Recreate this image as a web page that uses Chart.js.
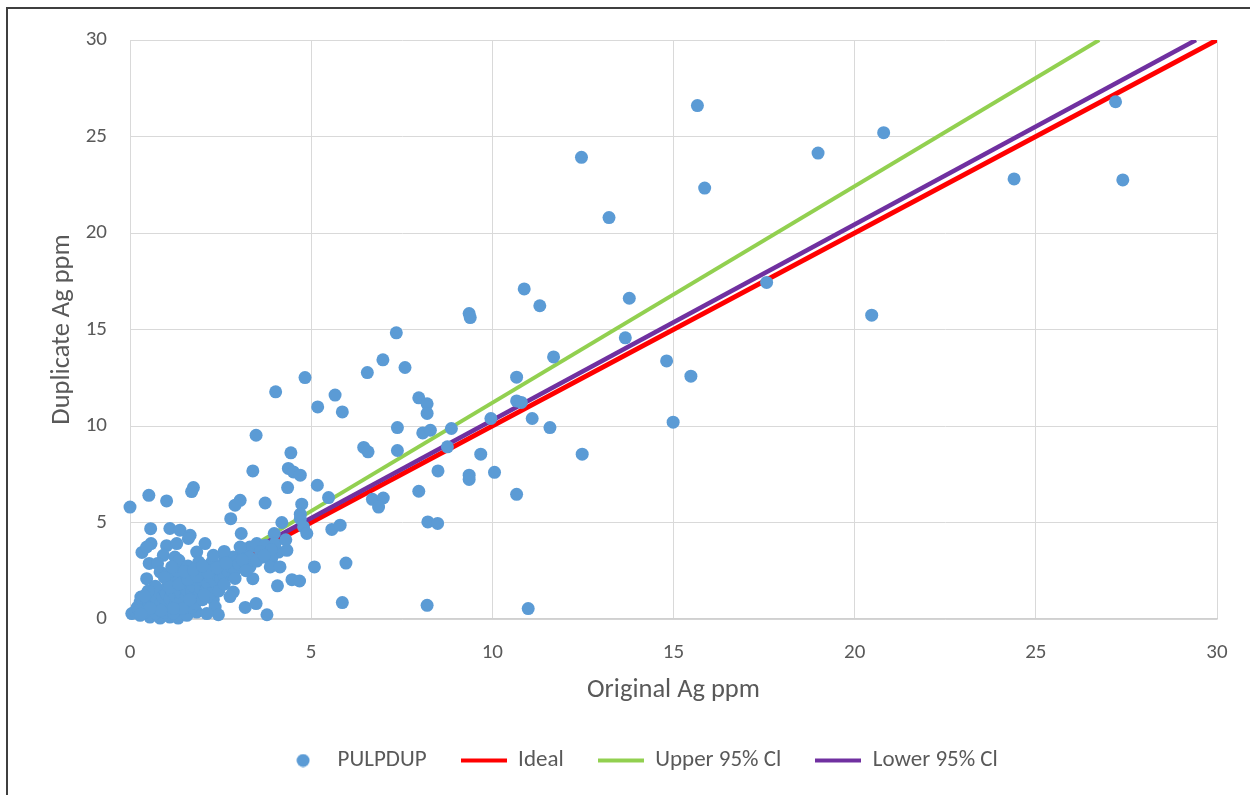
<!DOCTYPE html>
<html>
<head>
<meta charset="utf-8">
<title>PULPDUP Ag</title>
<script src="https://cdn.jsdelivr.net/npm/chart.js@4.4.1/dist/chart.umd.min.js"></script>
<style>
  html, body { margin: 0; padding: 0; background: #ffffff; overflow: hidden; }
  #frame { position: absolute; left: 6px; top: 7px; width: 1300px; height: 900px;
           border: 2px solid #3f3f3f; box-sizing: border-box; }
  #chart { position: absolute; left: 0; top: 0; }
</style>
</head>
<body>
<div id="frame"></div>
<canvas id="chart" width="1250" height="795"></canvas>
<script>
// Pulp duplicate pairs: original assay vs duplicate assay (Ag ppm)
const originalAg = [
  12.46, 15.66, 13.22, 15.86, 18.99, 20.8, 24.4, 27.2, 27.4, 17.57, 20.47, 13.78, 11.31, 10.88, 13.67, 11.69,
  14.81, 15.48, 14.99, 11.59, 12.48, 10.67, 10.67, 10.8, 9.96, 11.1, 9.68, 10.06, 10.67, 10.99, 9.36, 9.39,
  9.36, 9.36, 8.87, 8.76, 8.5,
  7.35, 6.98, 7.59, 6.55, 7.97, 8.2, 8.2, 7.38, 8.08, 8.29, 6.45, 6.57, 7.38, 7.97, 6.69, 6.99, 6.86, 8.22, 8.49, 8.2,
  4.83, 4.02, 5.66, 5.18, 5.86, 3.48, 4.44, 3.39, 4.37, 4.51, 4.7, 4.35, 5.17, 5.48, 3.04, 2.9, 3.73, 4.74,
  2.78, 4.7, 4.7, 4.19, 4.79, 4.88, 5.57, 5.8, 3.07, 3.98, 5.09, 5.96, 4.47, 4.68, 4.07, 3.39, 5.86, 3.18,
  3.48, 3.78, 2.85, 2.76, 2.3, 2.35, 2.44,
  1.75, 1.7, 0.52, 1.01, 0.0, 0.57, 1.1, 1.38, 1.66, 0.58, 1.01, 1.29, 2.07, 0.33, 0.92, 1.24, 1.84, 0.53,
  0.76, 1.35, 0.83, 1.06, 0.46, 0.3, 0.28, 0.46, 1.61,
  3.08, 3.31, 3.5, 3.73, 4.1, 4.33, 2.62, 2.85, 3.13, 3.68, 3.91, 2.3, 2.49, 2.76, 3.31, 3.87, 4.14, 2.12,
  2.21, 2.44, 1.93, 3.04, 3.6, 2.95, 4.0, 4.3, 3.9, 3.3, 3.5, 3.7,
  0.05, 0.28, 0.55, 0.83, 1.1, 1.33, 1.57, 1.84, 2.12, 0.15, 0.4, 0.7, 0.95, 1.2, 0.6, 0.9, 1.7,
  1.01, 1.24, 1.47, 1.7, 1.98, 2.26,
  0.2, 0.35, 0.45, 0.5, 0.6, 0.65, 0.7, 0.75, 0.8, 0.85,
  0.9, 0.95, 1.0, 1.0, 1.05, 1.1, 1.15, 1.2, 1.25, 1.25,
  1.3, 1.35, 1.4, 1.4, 1.45, 1.5, 1.55, 1.55, 1.6, 1.65,
  1.7, 1.75, 1.8, 1.85, 1.9, 1.95, 2.0, 2.05, 2.1, 2.15,
  2.2, 2.25, 2.35, 2.4, 2.5, 2.55, 2.6, 2.7, 2.8, 2.9,
  3.0, 3.1, 1.3, 1.15, 0.95, 0.7, 0.5, 0.4, 1.6, 1.9,
  2.3, 2.6, 0.25, 1.45, 1.8, 2.0, 2.2, 2.45, 2.6, 2.9,
  3.2, 2.05, 1.65, 1.2, 0.85, 0.55, 0.3,
  1.1, 1.35, 1.6, 1.85, 2.15, 2.4, 2.65, 1.5, 1.75, 2.0
];
const duplicateAg = [
  23.92, 26.6, 20.8, 22.33, 24.14, 25.2, 22.8, 26.8, 22.75, 17.44, 15.74, 16.62, 16.23, 17.1, 14.57, 13.58,
  13.37, 12.58, 10.2, 9.92, 8.54, 12.53, 11.3, 11.22, 10.39, 10.39, 8.54, 7.6, 6.46, 0.54, 15.83, 15.62,
  7.45, 7.23, 9.87, 8.92, 7.67,
  14.83, 13.43, 13.03, 12.77, 11.46, 11.15, 10.65, 9.92, 9.64, 9.78, 8.89, 8.66, 8.73, 6.62, 6.2, 6.27, 5.8, 5.03, 4.95, 0.71,
  12.51, 11.77, 11.6, 10.99, 10.73, 9.52, 8.61, 7.67, 7.8, 7.62, 7.45, 6.81, 6.93, 6.29, 6.15, 5.9, 6.01, 5.95,
  5.2, 5.43, 5.2, 5.0, 4.77, 4.43, 4.64, 4.86, 4.43, 4.43, 2.7, 2.9, 2.04, 1.97, 1.72, 2.09, 0.85, 0.6,
  0.8, 0.22, 1.4, 1.16, 1.0, 0.62, 0.22,
  6.81, 6.6, 6.41, 6.12, 5.8, 4.68, 4.69, 4.6, 4.34, 3.91, 3.8, 3.91, 3.91, 3.45, 3.3, 3.21, 3.47, 2.88,
  2.87, 3.04, 2.44, 2.35, 2.09, 1.14, 0.88, 3.73, 4.17,
  3.65, 3.73, 3.91, 3.82, 3.47, 3.56, 3.21, 3.21, 3.3, 3.21, 3.13, 2.7, 2.78, 2.87, 2.7, 2.7, 2.7, 2.35,
  2.0, 1.66, 1.84, 3.73, 3.5, 3.0, 3.9, 4.1, 3.6, 3.2, 3.0, 3.3,
  0.28, 0.19, 0.1, 0.05, 0.1, 0.05, 0.19, 0.36, 0.28, 0.4, 0.35, 0.3, 0.35, 0.3, 0.6, 0.6, 0.6,
  2.09, 2.26, 2.44, 2.61, 2.78, 2.95,
  0.6, 0.8, 0.55, 1.0, 0.85, 1.2, 0.65, 1.0, 1.4, 0.8,
  1.15, 1.5, 0.9, 1.3, 1.75, 1.05, 1.45, 1.85, 0.75, 1.2,
  1.6, 2.0, 1.0, 1.35, 1.75, 2.15, 1.2, 1.55, 1.9, 2.3,
  1.4, 1.7, 2.05, 2.4, 1.2, 1.6, 2.0, 2.35, 1.5, 1.85,
  2.2, 2.5, 1.9, 2.3, 2.1, 2.5, 2.25, 2.5, 2.7, 2.55,
  2.85, 3.05, 2.5, 2.7, 2.15, 1.7, 1.45, 1.2, 2.75, 2.95,
  3.3, 3.5, 0.45, 0.55, 0.8, 1.0, 1.3, 1.45, 1.8, 2.1,
  2.5, 1.25, 1.0, 0.55, 0.45, 0.55, 0.25,
  1.65, 1.8, 2.05, 2.2, 2.4, 2.65, 2.9, 2.45, 2.55, 2.75
];

// Reference lines (end points in ppm)
const idealX = [3, 30];
const idealY = [3, 30];
const upperX = [3, 26.75];
const upperY = [3.35, 30];
const lowerX = [3, 29.42];
const lowerY = [3.2, 30];

// Axis range and tick spacing
const axisMin = 0;
const axisMax = 30;
const axisStep = 5;

const seriesNames = ['PULPDUP', 'Ideal', 'Upper 95% Cl', 'Lower 95% Cl'];
const seriesColors = ['#5B9BD5', '#FF0000', '#92D050', '#7030A0'];

const toPoints = (xs, ys) => xs.map((x, i) => ({ x: x, y: ys[i] }));

const FONT = "Carlito, Lato, 'Liberation Sans', sans-serif";
const TEXT = '#595959';
const GRID = '#d9d9d9';

// Legend icons: a round marker for the pairs, short strokes for the lines
function markerIcon(color) {
  const c = document.createElement('canvas');
  c.width = 14; c.height = 14;
  const g = c.getContext('2d');
  g.fillStyle = color;
  g.beginPath(); g.arc(7, 7, 6.5, 0, Math.PI * 2); g.fill();
  return c;
}
function strokeIcon(color, w) {
  const c = document.createElement('canvas');
  c.width = 46; c.height = 6;
  const g = c.getContext('2d');
  g.fillStyle = color;
  g.fillRect(0, (6 - w) / 2, 46, w);
  return c;
}
const legendIcons = [
  markerIcon(seriesColors[0]),
  strokeIcon(seriesColors[1], 4),
  strokeIcon(seriesColors[2], 4),
  strokeIcon(seriesColors[3], 4)
];

// Keep the legend row compact while using wide spacing between entries
const legendBoxHeight = 80;
const legendHeightFix = {
  id: 'legendHeightFix',
  beforeLayout(chart) {
    const lg = chart.legend;
    if (lg && !lg._fitWrapped) {
      const fit = lg.fit.bind(lg);
      lg.fit = function () { fit(); this.height = legendBoxHeight; };
      lg._fitWrapped = true;
    }
  }
};

new Chart(document.getElementById('chart'), {
  type: 'scatter',
  data: {
    datasets: [
      {
        label: seriesNames[0],
        data: toPoints(originalAg, duplicateAg),
        backgroundColor: seriesColors[0],
        borderWidth: 0,
        pointRadius: 6.5,
        pointHoverRadius: 6.5,
        clip: false,
        order: 0
      },
      {
        label: seriesNames[1],
        data: toPoints(idealX, idealY),
        showLine: true,
        borderColor: seriesColors[1],
        borderWidth: 5,
        pointRadius: 0,
        order: 3
      },
      {
        label: seriesNames[2],
        data: toPoints(upperX, upperY),
        showLine: true,
        borderColor: seriesColors[2],
        borderWidth: 4,
        pointRadius: 0,
        order: 2
      },
      {
        label: seriesNames[3],
        data: toPoints(lowerX, lowerY),
        showLine: true,
        borderColor: seriesColors[3],
        borderWidth: 4.5,
        pointRadius: 0,
        order: 1
      }
    ]
  },
  options: {
    responsive: false,
    animation: false,
    events: [],
    layout: { padding: { left: 61, top: 40, right: 33, bottom: 0 } },
    scales: {
      x: {
        type: 'linear',
        min: axisMin,
        max: axisMax,
        ticks: { stepSize: axisStep, color: TEXT, font: { family: FONT, size: 21 }, padding: 21 },
        grid: { color: GRID, lineWidth: 1, drawTicks: false },
        border: { color: '#d0d0d0', width: 1.5 },
        title: {
          display: true,
          text: 'Original Ag ppm',
          color: TEXT,
          font: { family: FONT, size: 26.5 },
          padding: { top: 8, bottom: 9 }
        },
        afterFit(scale) { scale.height = 96; }
      },
      y: {
        type: 'linear',
        min: axisMin,
        max: axisMax,
        ticks: { stepSize: axisStep, color: TEXT, font: { family: FONT, size: 21 }, padding: 23 },
        grid: { color: GRID, lineWidth: 1, drawTicks: false },
        border: { color: GRID, width: 1 },
        title: {
          display: true,
          text: 'Duplicate Ag ppm',
          color: TEXT,
          font: { family: FONT, size: 26.5 },
          padding: { top: -15, bottom: 0 }
        },
        afterFit(scale) { scale.width = 69; }
      }
    },
    plugins: {
      tooltip: { enabled: false },
      legend: {
        position: 'bottom',
        labels: {
          color: TEXT,
          font: { family: FONT, size: 23 },
          usePointStyle: true,
          pointStyleWidth: 46,
          padding: 34,
          generateLabels(chart) {
            return chart.data.datasets.map((ds, i) => ({
              text: ds.label,
              pointStyle: legendIcons[i],
              fontColor: TEXT,
              fillStyle: 'transparent',
              strokeStyle: 'transparent',
              lineWidth: 0,
              hidden: false,
              datasetIndex: i
            }));
          }
        }
      }
    }
  },
  plugins: [legendHeightFix]
});
</script>
</body>
</html>
